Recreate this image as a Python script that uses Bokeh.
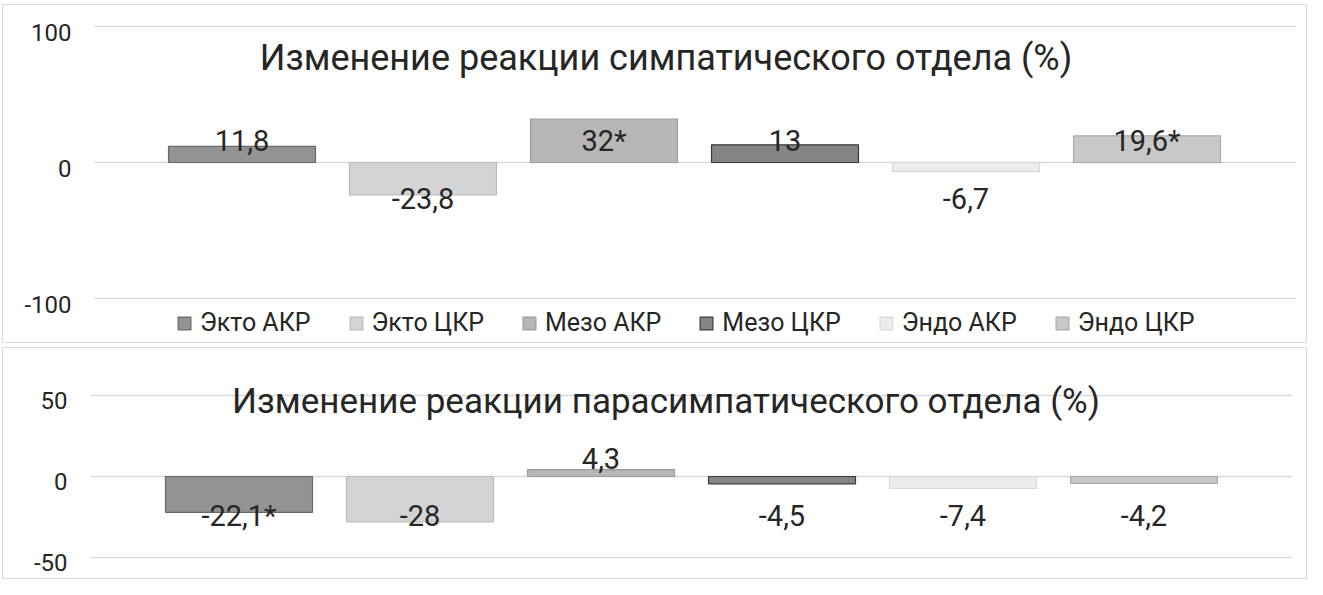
from bokeh.plotting import figure
from bokeh.models import Legend, LegendItem, Range1d
from bokeh.layouts import column
from bokeh.embed import file_html
from bokeh.resources import INLINE
from bokeh.core.properties import value

# ---------------- data ----------------
series = ["Экто АКР", "Экто ЦКР", "Мезо АКР", "Мезо ЦКР", "Эндо АКР", "Эндо ЦКР"]
symp_values = [11.8, -23.8, 32.0, 13.0, -6.7, 19.6]
symp_labels = ["11,8", "-23,8", "32*", "13", "-6,7", "19,6*"]
para_values = [-22.1, -28.0, 4.3, -4.5, -7.4, -4.2]
para_labels = ["-22,1*", "-28", "4,3", "-4,5", "-7,4", "-4,2"]
symp_ticks = [-100, 0, 100]
para_ticks = [-50, 0, 50]
symp_title = "Изменение реакции симпатического отдела (%)"
para_title = "Изменение реакции парасимпатического отдела (%)"

# ---------------- styles ----------------
FONT = "Roboto"
TEXT = "#262626"
GRID = "#d9d9d9"
BORDER = "#d9d9d9"
fills = ["#939393", "#d4d4d4", "#b7b7b7", "#858585", "#ececec", "#c8c8c8"]
lines = ["#686868", "#bcbcbc", "#9c9c9c", "#3a3a3a", "#d8d8d8", "#aaaaaa"]
BAR_W = 0.812
DY = 7  # vertical correction for text centring

PAGE_W = 1307


def make_panel(fig_top, fig_bottom, frame, c0, pitch, zero_y, ppu, grid_px,
               values, labels, ticks, title, title_y, pos_lab_y, neg_lab_y,
               title_size, tick_dy, with_legend):
    L, T, R, B = frame
    height = fig_bottom - fig_top
    xr = Range1d((L - c0) / pitch, (R - c0) / pitch)
    yr = Range1d(-(B - zero_y) / ppu, (zero_y - T) / ppu)
    p = figure(width=PAGE_W, height=height, x_range=xr, y_range=yr,
               x_axis_location=None, y_axis_location=None,
               toolbar_location=None, output_backend="svg",
               min_border_left=L - 8, min_border_top=T - fig_top,
               min_border_right=(8 + PAGE_W) - R, min_border_bottom=fig_bottom - B)
    p.grid.visible = False
    p.outline_line_color = BORDER
    p.outline_line_width = 1
    p.background_fill_color = "white"
    p.border_fill_color = "white"

    gx0 = (grid_px[0] - c0) / pitch
    gx1 = (grid_px[1] - c0) / pitch
    p.segment(x0=[gx0] * len(ticks), x1=[gx1] * len(ticks), y0=ticks, y1=ticks,
              line_color=GRID, line_width=1.3)
    p.text(x=[gx0] * len(ticks), y=ticks, text=[str(t) for t in ticks],
           x_offset=-23, y_offset=tick_dy, text_align="right", text_baseline="middle",
           text_font=value(FONT), text_font_size="24px", text_color=TEXT)

    items = []
    for i, (name, v) in enumerate(zip(series, values)):
        r = p.vbar(x=[i], top=[v], bottom=0, width=BAR_W,
                   fill_color=fills[i], line_color=lines[i], line_width=1.2)
        items.append(LegendItem(label=name, renderers=[r]))

    lab_y = [pos_lab_y if v > 0 else neg_lab_y for v in values]
    p.text(x=list(range(len(values))), y=lab_y, text=labels, y_offset=DY,
           text_align="center", text_baseline="middle",
           text_font=value(FONT), text_font_size="29px", text_color=TEXT)

    xmid = (xr.start + xr.end) / 2
    p.text(x=[xmid], y=[(zero_y - title_y) / ppu], text=[title],
           x_offset=11, y_offset=DY + 1,
           text_align="center", text_baseline="middle",
           text_font=value(FONT), text_font_size=title_size, text_color=TEXT)

    if with_legend:
        lg = Legend(items=items, orientation="horizontal",
                    location=(184 - L, 5),
                    glyph_width=16, glyph_height=16, label_standoff=8,
                    spacing=37, padding=0, margin=0,
                    border_line_color=None, background_fill_alpha=0,
                    label_text_font=FONT, label_text_font_size="25px",
                    label_text_color=TEXT, label_text_baseline="middle")
        p.add_layout(lg)
    return p


top = make_panel(8, 352, (10, 12, 1315, 350), 249.5, 181.0, 170.0, 1.36, (102, 1303),
                 symp_values, symp_labels, symp_ticks, symp_title, 57,
                 (170 - 141) / 1.36, -(199 - 170) / 1.36, "36px", DY - 1, True)
bottom = make_panel(352, 587, (10, 355, 1315, 587), 246.5, 181.0, 484.0, 1.62, (98, 1299),
                    para_values, para_labels, para_ticks, para_title, 401,
                    (484 - 459) / 1.62, -(516 - 484) / 1.62, "35px", DY - 2, False)

layout = column(top, bottom, spacing=0)
open("out.html", "w").write(file_html(layout, INLINE))
